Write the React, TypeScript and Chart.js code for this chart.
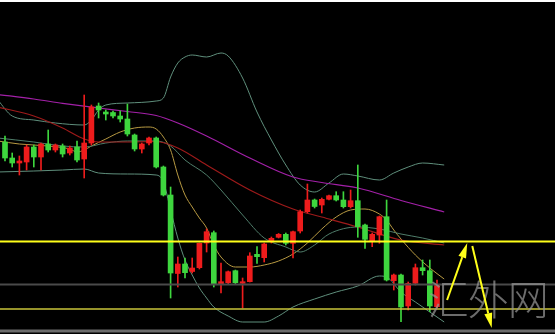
import React, { useEffect, useRef } from "react";
import { Chart, registerables } from "chart.js";

Chart.register(...registerables);

// ---- Candle data (price units, arbitrary scale) ----
const opens = [192, 176, 171, 172, 187, 177, 190, 184, 188, 181, 187, 175, 191, 228, 222, 221.5, 218, 215, 199, 185, 191, 196, 167, 139, 60.5, 70, 62.5, 66.3, 91, 101.3, 49.7, 51.3, 63.3, 50.7, 52.3, 79.7, 76.3, 92.3, 96.7, 99.7, 90.7, 103, 122.3, 134, 129, 134.7, 138.3, 134, 127.3, 133.3, 109, 93.3, 99, 117.3, 53.3, 59, 28, 50.7, 66.3, 63.3, 27.3];
const closes = [176, 171, 173, 187, 177, 190, 184, 189, 180, 186, 174, 191, 227, 224, 220, 218, 215, 200, 185, 190, 196, 167, 139, 61, 70, 61.3, 66, 90.7, 102.3, 50, 52.3, 62.3, 51.3, 52.3, 78, 77.3, 90, 95.7, 99.7, 90.7, 102.3, 122.3, 134, 127.5, 134.7, 138.3, 134, 127.3, 133.3, 107.3, 94.7, 99.7, 117.3, 54, 59, 27, 50.7, 66.3, 63.3, 28, 49];
const highs = [198, 181, 178, 189, 189, 191, 204, 190, 190, 188, 193, 239, 229, 231, 224, 223, 223, 230, 200, 191, 197, 197, 168, 147, 77, 76, 76, 91, 105, 103, 71, 63, 64, 56, 81.3, 87.3, 91, 97, 100.5, 101, 103, 124, 150, 135, 136, 139, 142.3, 142.3, 144, 169, 110, 101, 118, 134, 60, 60, 52, 70, 74, 74, 54];
const lows = [173, 167, 159, 164, 167, 164, 182, 182, 177, 179, 172, 156, 189, 216, 214, 216, 212, 198, 183, 181, 189, 166, 138, 36, 47, 56, 61, 65, 82, 47, 41, 50, 50, 26, 52, 70.7, 72, 91, 96, 89, 76, 101, 121, 126, 121, 134, 133, 126, 126, 96.7, 85.7, 87.3, 90.7, 53, 44, 12.3, 24, 49, 59, 22.3, 26];

// ---- Indicator lines: [candle index, value] ----
const purpleIdx = [-1, 4, 8, 13, 17, 21, 24, 28, 34, 40, 44, 49, 55, 61];
const purpleVal = [239.5, 235, 230.7, 226, 222.5, 218.5, 211, 198, 176, 157, 151.5, 146, 133.5, 122];

const redMaIdx = [-1, 4, 8, 11, 13, 17, 21, 24, 28, 34, 40, 44, 49, 55, 61];
const redMaVal = [227, 218, 206, 195, 192, 192, 192.5, 186, 169, 144, 125, 117, 107, 94, 89];

const goldMaIdx = [-1, 2, 6, 9, 10, 11, 12, 14, 16, 18, 20, 21, 22, 23, 24, 25, 26, 27, 28, 29, 30, 32, 34, 36, 38, 40, 42, 44, 46, 48, 50, 52, 53, 54, 55, 57, 59, 61];
const goldMaVal = [193, 190, 188, 185, 182, 184, 188, 195, 202, 206, 207, 205, 197, 184, 159, 139, 127, 116, 106, 89, 77, 67, 67, 69, 73, 80, 91, 105, 117, 124, 125, 120, 114, 104, 95, 79, 66, 55];

const bbUpperIdx = [-1, 1, 4, 7, 11, 12, 13, 14, 17, 21, 22, 23, 24, 25, 26, 28, 30, 31, 33, 35, 37, 39, 41, 43, 45, 47, 49, 52, 54, 56, 58, 61];
const bbUpperVal = [234, 218, 214, 211, 209, 214, 224, 229, 231, 233, 236, 257, 271, 277, 279, 277, 281, 278, 256, 222, 194, 169, 149, 142, 151, 160, 158, 154, 161, 167, 171, 169];

const bbMidIdx = [-1, 4, 8, 11, 14, 17, 21, 23, 25, 28, 30, 33, 36, 39, 41, 43, 45, 49, 52, 55, 58, 61];
const bbMidVal = [196, 192, 188, 187, 191, 193, 193, 188, 174, 159, 144, 119, 96, 87, 82, 89, 100, 107, 105, 100, 96, 91];

const bbLowerIdx = [-1, 4, 8, 11, 13, 17, 21, 22, 23, 24, 25, 26, 27, 28, 29, 31, 33, 36, 38, 40, 43, 46, 49, 52, 53, 55, 57, 59, 61];
const bbLowerVal = [162, 163, 164, 165, 161, 160, 159, 152, 124, 96, 74, 59, 46, 36, 27, 18, 12, 12, 18, 27, 35, 42, 48, 58, 57, 42, 32, 22, 12];

// ---- Horizontal levels ----
const levelValues = [92.5, 49.5, 25, 3];
const levelColors = ["#ffff1a", "#4a4a4a", "#c9c43a", "#6c6c6c"];
const levelWidths = [2, 2, 1.5, 3];

// ---- Arrows (index, value) ----
const arrowFromX = [61.4, 64.9];
const arrowFromY = [34, 88];
const arrowToX = [64.2, 67.6];
const arrowToY = [91, 6];

// ---- Watermark ----
const watermarkText = "汇外网";
const watermarkX = 58.7;
const watermarkY = 19;

const X_MIN = -5 / 7.2;
const X_MAX = X_MIN + 555 / 7.2;

const UP = "#ee1c1c";
const DOWN = "#3ed63e";

function pts(idx: number[], val: number[]) {
  return idx.map((x, i) => ({ x, y: val[i] }));
}

function lineDs(label: string, data: any[], color: string, width = 1, order = 5) {
  return {
    type: "line" as const,
    label,
    data,
    borderColor: color,
    borderWidth: width,
    pointRadius: 0,
    fill: false,
    cubicInterpolationMode: "monotone" as const,
    order,
  };
}

const overlayPlugin = {
  id: "overlay",
  afterDatasetsDraw(chart: any) {
    const { ctx, scales } = chart;
    const xs = scales.x;
    const ys = scales.y;
    // watermark
    ctx.save();
    ctx.font = '300 41px "Noto Sans CJK SC", sans-serif';
    ctx.fillStyle = "rgba(150,150,150,0.72)";
    ctx.textBaseline = "alphabetic";
    const wx = xs.getPixelForValue(watermarkX);
    const wy = ys.getPixelForValue(watermarkY);
    [...watermarkText].forEach((ch, k) => {
      ctx.fillText(ch, wx + k * 40, wy);
    });
    ctx.restore();
    // arrows
    ctx.save();
    ctx.strokeStyle = "#ffff1a";
    ctx.fillStyle = "#ffff1a";
    ctx.lineWidth = 2;
    for (let i = 0; i < arrowFromX.length; i++) {
      const x1 = xs.getPixelForValue(arrowFromX[i]);
      const y1 = ys.getPixelForValue(arrowFromY[i]);
      const x2 = xs.getPixelForValue(arrowToX[i]);
      const y2 = ys.getPixelForValue(arrowToY[i]);
      const ang = Math.atan2(y2 - y1, x2 - x1);
      const headLen = 15;
      const headW = 4;
      const bx = x2 - headLen * Math.cos(ang);
      const by = y2 - headLen * Math.sin(ang);
      ctx.beginPath();
      ctx.moveTo(x1, y1);
      ctx.lineTo(bx, by);
      ctx.stroke();
      ctx.beginPath();
      ctx.moveTo(x2, y2);
      ctx.lineTo(bx + headW * Math.sin(ang), by - headW * Math.cos(ang));
      ctx.lineTo(bx - headW * Math.sin(ang), by + headW * Math.cos(ang));
      ctx.closePath();
      ctx.fill();
    }
    ctx.restore();
  },
};

export default function App() {
  const ref = useRef<HTMLCanvasElement>(null);

  useEffect(() => {
    document.body.style.margin = "0";
    const colors = opens.map((o, i) => (closes[i] >= o ? UP : DOWN));
    const wickData = lows.map((l, i) => ({ x: i, y: [l, highs[i]] }));
    const bodyData = opens.map((o, i) => ({ x: i, y: [o, closes[i]] }));

    const levelSets = levelValues.map((v, i) => ({
      type: "line" as const,
      label: "level" + i,
      data: [
        { x: X_MIN - 2, y: v },
        { x: X_MAX + 2, y: v },
      ],
      borderColor: levelColors[i],
      borderWidth: levelWidths[i],
      pointRadius: 0,
      fill: false,
      order: 1,
    }));

    const chart = new Chart(ref.current!, {
      type: "bar",
      data: {
        datasets: [
          lineDs("MA-purple", pts(purpleIdx, purpleVal), "#a320a8", 1.2, 6),
          lineDs("MA-red", pts(redMaIdx, redMaVal), "#9e1a1a", 1.2, 6),
          lineDs("BB-upper", pts(bbUpperIdx, bbUpperVal), "#5f8f7c", 1, 6),
          lineDs("BB-mid", pts(bbMidIdx, bbMidVal), "#4f7d6a", 1, 6),
          lineDs("BB-lower", pts(bbLowerIdx, bbLowerVal), "#5f8f7c", 1, 6),
          lineDs("MA-gold", pts(goldMaIdx, goldMaVal), "#b89a42", 1, 6),
          {
            type: "bar" as const,
            label: "wick",
            data: wickData as any,
            backgroundColor: colors,
            barThickness: 1,
            grouped: false,
            borderSkipped: false,
            borderWidth: 0,
            order: 4,
          },
          {
            type: "bar" as const,
            label: "body",
            data: bodyData as any,
            backgroundColor: colors,
            barThickness: 5,
            grouped: false,
            borderSkipped: false,
            borderWidth: 0,
            order: 3,
          },
          ...levelSets,
        ] as any,
      },
      options: {
        responsive: false,
        animation: false,
        events: [],
        layout: { padding: 0 },
        plugins: {
          legend: { display: false },
          tooltip: { enabled: false },
        },
        scales: {
          x: { type: "linear", min: X_MIN, max: X_MAX, display: false, offset: false },
          y: { type: "linear", min: 0, max: 332, display: false },
        },
      },
      plugins: [overlayPlugin],
    });
    return () => chart.destroy();
  }, []);

  return (
    <div style={{ position: "relative", width: 558, height: 334, background: "#ffffff" }}>
      <div style={{ position: "absolute", left: 0, top: 2, width: 555, height: 332, background: "#000000" }}>
        <canvas ref={ref} width={555} height={332} style={{ display: "block", width: 555, height: 332 }} />
      </div>
    </div>
  );
}
